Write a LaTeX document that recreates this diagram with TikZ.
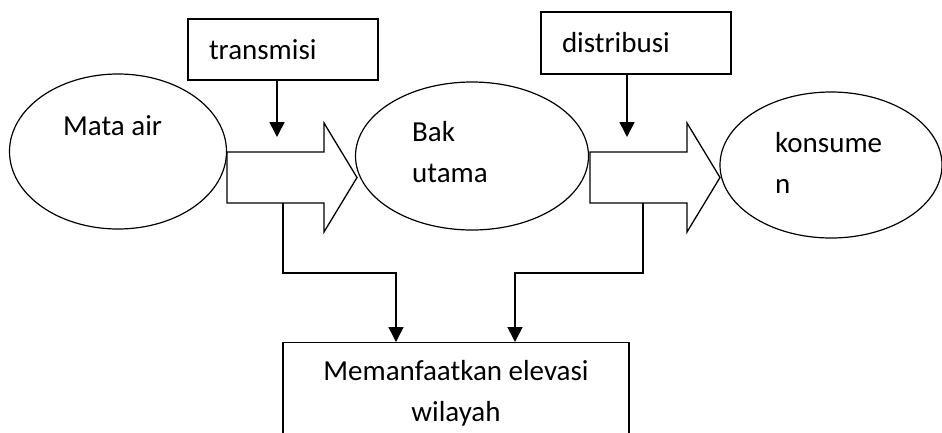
\documentclass[tikz,border=0pt]{standalone}
\usepackage{fontspec}
\setmainfont{Carlito}
\usetikzlibrary{shapes.geometric,arrows.meta}
\tikzset{
  txt/.style={font=\fontsize{29}{41}\selectfont, inner sep=0pt},
  bulat/.style={draw, ellipse, line width=1.2pt, inner sep=0pt},
  kotak/.style={draw, rectangle, line width=1.3pt, txt},
  conn/.style={line width=1.6pt, -{Triangle[length=15pt,width=15pt]}},
  panah/.style={draw, line width=1.3pt, line join=miter}
}
\begin{document}
\begin{tikzpicture}[x=1pt,y=-1pt]
\useasboundingbox (0,0) rectangle (942,432);
\clip (0,0) rectangle (942,432);
% sumber, bak, konsumen
\node[bulat, minimum width=217pt, minimum height=155pt] (mata) at (118,151.5) {};
\node[bulat, minimum width=233pt, minimum height=148pt] (bak) at (472,156) {};
\node[bulat, minimum width=222pt, minimum height=146pt] (kons) at (831,165) {};
\node[txt, anchor=base west] (mata-txt) at (63,135) {Mata air};
\node[txt, anchor=base west, align=left] (bak-txt) at (412,182) {Bak\\utama};
\node[txt, anchor=base west, align=left] (kons-txt) at (775,193) {konsume\\n};
% kotak keterangan
\node[kotak, minimum width=190pt, minimum height=61pt, inner xsep=21pt,
      text width=148pt, align=left] (trans) at (283,49.5) {transmisi};
\node[kotak, minimum width=190pt, minimum height=62pt, inner xsep=21pt,
      text width=148pt, align=left] (dist) at (636,43) {distribusi};
\node[kotak, anchor=north, minimum width=346pt, minimum height=102pt,
      align=center] (elev) at (456,342) {Memanfaatkan elevasi\\wilayah};
% panah blok
\path[panah] (227,152) -- (324,152) -- (324,123) -- (357,177.5) -- (324,232)
  -- (324,203) -- (227,203) -- cycle;
\path[panah] (590,152) -- (687,152) -- (687,123) -- (720,177.5) -- (687,232)
  -- (687,203) -- (590,203) -- cycle;
\coordinate (trans-end) at (277,137);
\coordinate (dist-end) at (627,137);
\coordinate (ba1-foot) at (283,203);
\coordinate (ba2-foot) at (643,203);
\draw[conn] ([xshift=-6pt]trans.south) -- (trans-end);
\draw[conn] ([xshift=-9pt]dist.south) -- (dist-end);
\draw[conn] (ba1-foot) -- ++(0,70) -| ([xshift=-60pt]elev.north);
\draw[conn] (ba2-foot) -- ++(0,70) -| ([xshift=59pt]elev.north);
\end{tikzpicture}
\end{document}
